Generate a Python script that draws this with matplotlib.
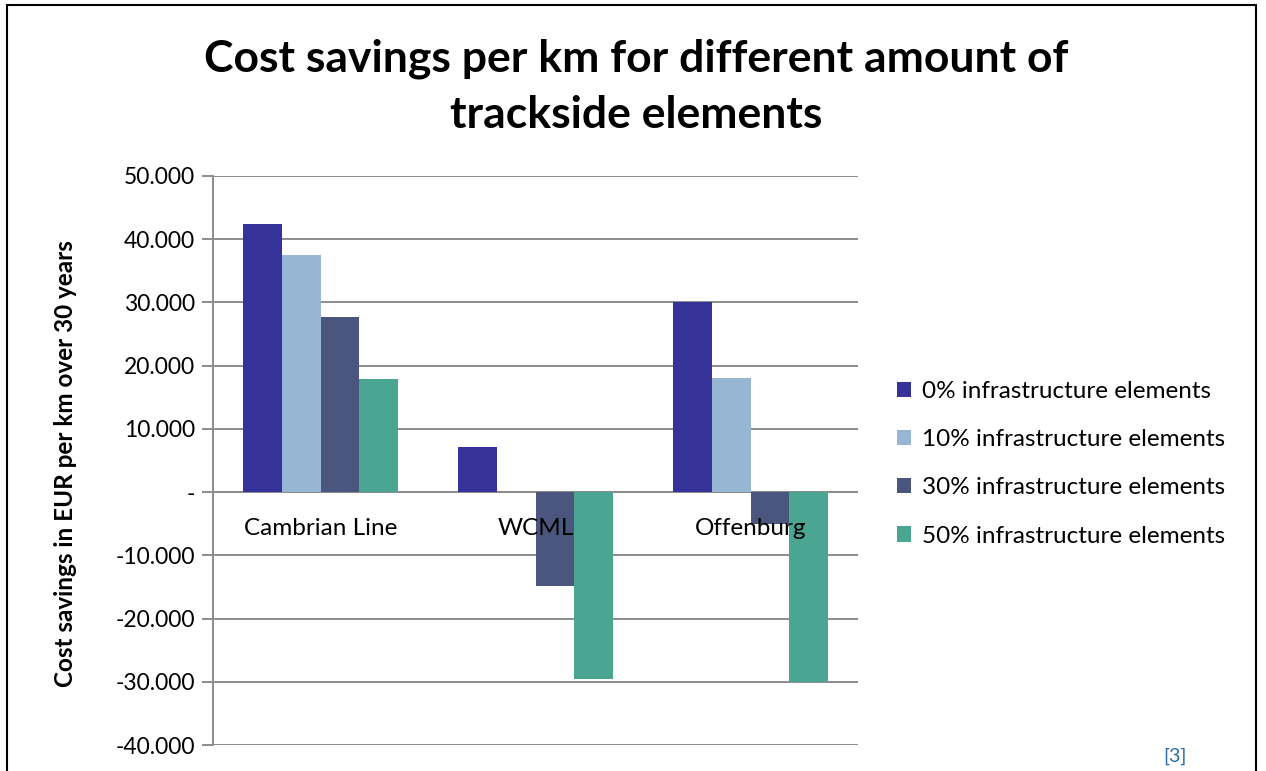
import matplotlib.pyplot as plt
import numpy as np
from matplotlib.patches import Rectangle
from matplotlib.ticker import FuncFormatter

plt.rcParams["font.family"] = ["Lato", "DejaVu Sans"]

# Einsparungen pro km (EUR, 30 Jahre)
lines = ["Cambrian Line", "WCML", "Offenburg"]
series = [
    "0% infrastructure elements",
    "10% infrastructure elements",
    "30% infrastructure elements",
    "50% infrastructure elements",
]
savings_0 = [42400, 7200, 30100]
savings_10 = [37500, 0, 18000]
savings_30 = [27700, -14800, -5000]
savings_50 = [17900, -29600, -30100]
colors = ["#353399", "#97b6d4", "#4a567e", "#4aa593"]
y_ticks = list(range(-40000, 50001, 10000))


def eur_fmt(v, pos):
    if v == 0:
        return "-"
    return f"{v:,.0f}".replace(",", ".")


fig = plt.figure(figsize=(12.66, 7.71), dpi=100)
ax = fig.add_axes([213 / 1266, 1 - 745 / 771, 645 / 1266, 569 / 771])

x = np.arange(len(lines))
w = 0.18
for i, (vals, name, c) in enumerate(zip([savings_0, savings_10, savings_30, savings_50], series, colors)):
    ax.bar(x + (i - 1.5) * w, vals, w, color=c, label=name, zorder=3)

ax.set_xlim(-0.5, 2.5)
ax.set_ylim(-40000, 50000)
ax.set_yticks(y_ticks)
ax.yaxis.set_major_formatter(FuncFormatter(eur_fmt))
ax.grid(axis="y", color="#8c8c8c", linewidth=1.4, zorder=0)
ax.set_axisbelow(True)
for s in ["top", "right", "bottom"]:
    ax.spines[s].set_visible(False)
ax.spines["left"].set_color("#8c8c8c")
ax.spines["left"].set_linewidth(1.4)
ax.axhline(0, color="#8c8c8c", linewidth=1.4, zorder=2)
ax.tick_params(axis="y", length=8, width=1.4, color="#8c8c8c", labelsize=16.5, pad=5)
ax.set_xticks([])

# Kategorienamen direkt unter der Nulllinie
for xi, name in zip(x, lines):
    ax.text(xi, -5700, name, ha="center", va="center", fontsize=17.5, zorder=5)

ax.set_ylabel("Cost savings in EUR per km over 30 years", fontsize=17.5, fontweight="bold")
ax.yaxis.set_label_coords(-0.211, 0.494)

fig.text(0.5 * (205 + 1068) / 1266, 1 - 87 / 771,
         "Cost savings per km for different amount of\ntrackside elements",
         ha="center", va="center", fontsize=32, fontweight="bold", linespacing=1.5)

leg = fig.legend(loc="upper left", bbox_to_anchor=(875 / 1266, 1 - 359 / 771), frameon=False,
                 fontsize=17.5, handlelength=0.6, handleheight=0.6, handletextpad=0.45,
                 labelspacing=1.12)

fig.text(1175 / 1266, 1 - 756 / 771, "[3]", color="#2e6da4", fontsize=14, ha="center", va="center")

fig.add_artist(Rectangle((7 / 1266, -0.05), 1249 / 1266, 1.05 - 5 / 771, transform=fig.transFigure,
                         fill=False, edgecolor="black", linewidth=1.5))

fig.savefig("out.png", dpi=100)
